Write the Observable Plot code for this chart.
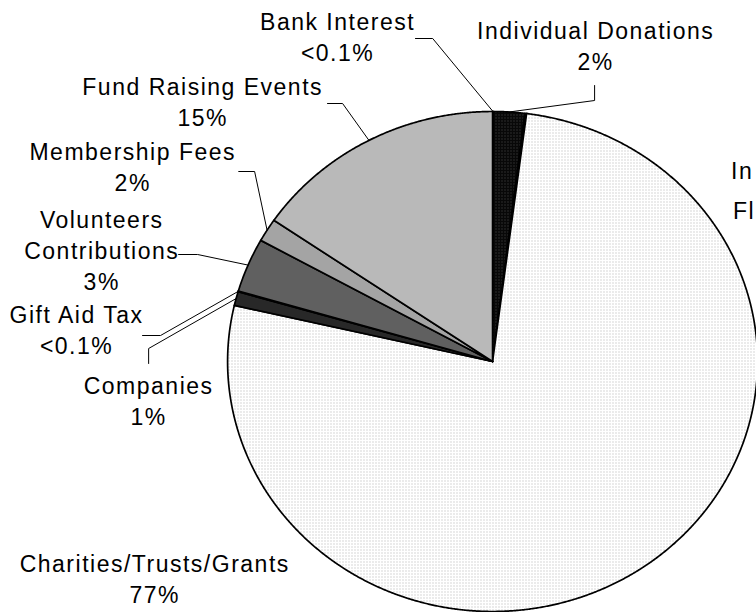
<!DOCTYPE html>
<html>
<head>
<meta charset="utf-8">
<script src="https://cdn.jsdelivr.net/npm/d3@7"></script>
<script src="https://cdn.jsdelivr.net/npm/@observablehq/plot@0.6"></script>
<style>
html, body { margin: 0; padding: 0; background: #fff; overflow: hidden; }
#chart svg { display: block; max-width: none; }
</style>
</head>
<body>
<div id="chart"></div>
<script>
// ---- data (clockwise from 12 o'clock) ----
const categories = [
  "Bank Interest",
  "Individual Donations",
  "In Kind Flights",
  "Charities/Trusts/Grants",
  "Companies",
  "Gift Aid Tax",
  "Volunteers Contributions",
  "Membership Fees",
  "Fund Raising Events"
];
const shares = [0.05, 1.9, 0.1, 76.55, 0.9, 0.05, 3.5, 1.5, 15.45];
const percentLabels = ["<0.1%", "2%", "<0.1%", "77%", "1%", "<0.1%", "3%", "2%", "15%"];
const nameLines = [
  ["Bank Interest"],
  ["Individual Donations"],
  ["In Kind", "Flights"],
  ["Charities/Trusts/Grants"],
  ["Companies"],
  ["Gift Aid Tax"],
  ["Volunteers", "Contributions"],
  ["Membership Fees"],
  ["Fund Raising Events"]
];
// the right-hand label is cut off by the picture edge: only its name lines show
const showPercent = [true, true, false, true, true, true, true, true, true];
const fillPatterns = ["p-white", "p-indiv", "p-white", "p-char", "p-comp", "p-white", "p-vol", "p-mem", "p-fr"];

// ---- layout (pie-radius units, origin at pie centre) ----
// label: first-line baseline position; lead: label-side start and elbow of leader line
const labelLayout = [
  {x: -0.585, y: 1.316, lead: [[-0.291, 1.292], [-0.226, 1.292]]},
  {x: 0.389, y: 1.28, lead: [[0.385, 1.104], [0.385, 1.044]]},
  {x: 1.055, y: 0.744, lead: null, lh: 40},
  {x: -1.275, y: -0.852, lead: null},
  {x: -1.298, y: -0.14, lead: [[-1.298, -0.008], [-1.298, 0.052]]},
  {x: -1.570, y: 0.144, lead: [[-1.321, 0.104], [-1.253, 0.104]]},
  {x: -1.475, y: 0.524, lead: [[-1.185, 0.428], [-1.113, 0.428]]},
  {x: -1.358, y: 0.796, lead: [[-0.958, 0.76], [-0.898, 0.76]]},
  {x: -1.094, y: 1.056, lead: [[-0.623, 1.032], [-0.566, 1.032]]}
];

const W = 756, H = 612, FS = 23;

const arcs = d3.pie().sort(null).value(d => d)(shares);

function slicePoints(a) {
  const pts = [{x: 0, y: 0}];
  const step = Math.PI / 720;
  const n = Math.max(1, Math.ceil((a.endAngle - a.startAngle) / step));
  for (let i = 0; i <= n; i++) {
    const t = a.startAngle + (a.endAngle - a.startAngle) * i / n;
    pts.push({x: Math.sin(t), y: Math.cos(t)});
  }
  pts.push({x: 0, y: 0});
  return pts;
}

const sliceMarks = arcs.map((a, i) =>
  Plot.line(slicePoints(a), {
    x: "x", y: "y",
    fill: `url(#${fillPatterns[i]})`,
    stroke: "black", strokeWidth: 1.7,
    strokeLinejoin: "miter", strokeMiterlimit: 4
  })
);

const leaders = [];
arcs.forEach((a, i) => {
  const L = labelLayout[i];
  if (!L.lead) return;
  const m = (a.startAngle + a.endAngle) / 2;
  leaders.push({k: i, x: L.lead[0][0], y: L.lead[0][1]});
  leaders.push({k: i, x: L.lead[1][0], y: L.lead[1][1]});
  leaders.push({k: i, x: Math.sin(m), y: Math.cos(m)});
});

const labels = categories.map((c, i) => ({
  x: labelLayout[i].x,
  y: labelLayout[i].y,
  lh: labelLayout[i].lh || 31,
  text: nameLines[i].concat(showPercent[i] ? [percentLabels[i]] : []).join("\n")
}));

const textOpts = {
  x: "x", y: "y", text: "text", textAnchor: "middle", lineAnchor: "top",
  fontSize: FS, dy: -1.073 * FS, fill: "black"
};

const svg = Plot.plot({
  width: W, height: H, margin: 0,
  x: {domain: [-1.857, 0.996], axis: null},
  y: {domain: [-1.004, 1.444], axis: null},
  style: {
    fontFamily: "'Liberation Sans', Arial, sans-serif",
    fontSize: FS + "px",
    letterSpacing: "1.5px",
    background: "white",
    overflow: "hidden"
  },
  marks: [
    ...sliceMarks,
    Plot.line(leaders, {x: "x", y: "y", z: "k", stroke: "black", strokeWidth: 1, strokeLinejoin: "miter"}),
    Plot.text(labels.filter(d => d.lh === 31), {...textOpts, lineHeight: 31 / FS}),
    Plot.text(labels.filter(d => d.lh !== 31), {...textOpts, lineHeight: 40 / FS})
  ]
});

d3.select(svg).insert("defs", ":first-child").html(`
  <pattern id="p-white" width="4" height="4" patternUnits="userSpaceOnUse">
    <rect width="4" height="4" fill="#ffffff"/>
  </pattern>
  <pattern id="p-char" width="3" height="3" patternUnits="userSpaceOnUse">
    <rect width="3" height="3" fill="#ffffff"/>
    <rect width="1" height="1" fill="#b0b0b0"/>
  </pattern>
  <pattern id="p-fr" width="2" height="2" patternUnits="userSpaceOnUse">
    <rect width="2" height="2" fill="#d0d0d0"/>
    <rect width="1" height="1" fill="#a2a2a2"/>
    <rect x="1" y="1" width="1" height="1" fill="#a2a2a2"/>
  </pattern>
  <pattern id="p-mem" width="2" height="2" patternUnits="userSpaceOnUse">
    <rect width="2" height="2" fill="#bdbdbd"/>
    <rect width="1" height="1" fill="#8a8a8a"/>
    <rect x="1" y="1" width="1" height="1" fill="#8a8a8a"/>
  </pattern>
  <pattern id="p-vol" width="2" height="2" patternUnits="userSpaceOnUse">
    <rect width="2" height="2" fill="#747474"/>
    <rect width="1" height="1" fill="#4c4c4c"/>
    <rect x="1" y="1" width="1" height="1" fill="#4c4c4c"/>
  </pattern>
  <pattern id="p-comp" width="2" height="2" patternUnits="userSpaceOnUse">
    <rect width="2" height="2" fill="#3a3a3a"/>
    <rect width="1" height="1" fill="#161616"/>
    <rect x="1" y="1" width="1" height="1" fill="#161616"/>
  </pattern>
  <pattern id="p-indiv" width="3" height="3" patternUnits="userSpaceOnUse">
    <rect width="3" height="3" fill="#080808"/>
    <rect width="1" height="1" fill="#505050"/>
  </pattern>
`);

document.getElementById("chart").appendChild(svg);
</script>
</body>
</html>
